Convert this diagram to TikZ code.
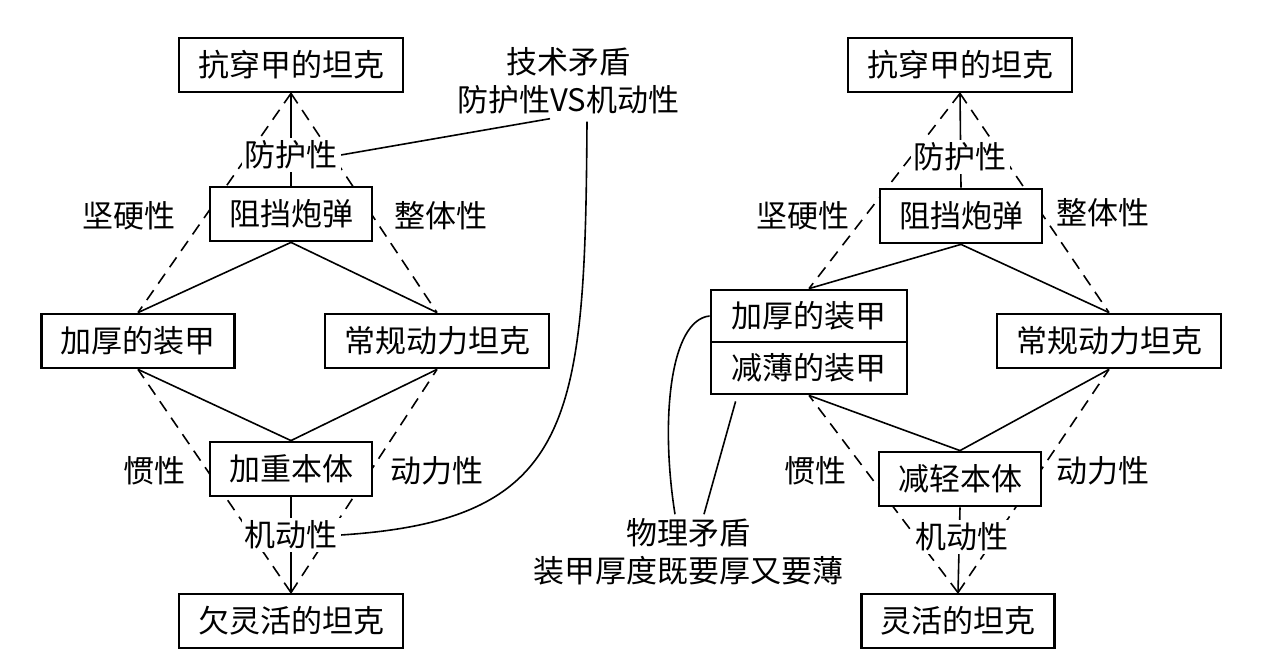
\documentclass[tikz,border=0pt]{standalone}
\usepackage{fontspec}
\usepackage{tikz}
\usetikzlibrary{calc}
\usetikzlibrary{backgrounds}
\newfontfamily\cjk{Noto Sans CJK SC}

\begin{document}
\begin{tikzpicture}[x=0.5pt,y=-0.5pt,
  every node/.style={font=\cjk\fontsize{15.5pt}{19pt}\selectfont},
  box/.style={draw,line width=1.4pt,fill=white,inner xsep=9.5pt,inner ysep=0pt,minimum height=27pt},
  halfbox/.style={box,minimum width=98pt,minimum height=26pt},
  lab/.style={fill=white,inner sep=1.5pt},
  note/.style={align=center,inner sep=2pt},
  link/.style={line width=0.8pt},
  hint/.style={line width=0.8pt,dash pattern=on 6pt off 4pt}]
  \useasboundingbox (0,0) rectangle (1280,672);
  % left: thicker armour
  \node[box] (top1) at (291,65) {抗穿甲的坦克};
  \node[box] (stop1) at (291,214) {阻挡炮弹};
  \node[box] (armor1) at (138,341) {加厚的装甲};
  \node[box] (engine1) at (437,341) {常规动力坦克};
  \node[box] (body1) at (291,469) {加重本体};
  \node[box] (end1) at (291,621) {欠灵活的坦克};
  \node[lab] (prot1) at (291,155) {防护性};
  \node[lab] (hard1) at (129,216) {坚硬性};
  \node[lab] (whole1) at (441,216) {整体性};
  \node[lab] (inert1) at (154,471) {惯性};
  \node[lab] (power1) at (437,471) {动力性};
  \node[lab] (mob1) at (291,535) {机动性};
  \node[note] (tech) at (568,81) {技术矛盾\\防护性VS机动性};
  % right: separated armour
  \node[box] (top2) at (960,65) {抗穿甲的坦克};
  \node[box] (stop2) at (961,216) {阻挡炮弹};
  \node[halfbox] (armor2) at (809,316) {加厚的装甲};
  \node[halfbox] (thin2) at (809,368) {减薄的装甲};
  \node[box] (engine2) at (1109,341) {常规动力坦克};
  \node[box] (body2) at (960,479) {减轻本体};
  \node[box] (end2) at (958,621) {灵活的坦克};
  \node[lab] (prot2) at (960,157) {防护性};
  \node[lab] (hard2) at (803,216) {坚硬性};
  \node[lab] (whole2) at (1103,213) {整体性};
  \node[lab] (inert2) at (815,471) {惯性};
  \node[lab] (power2) at (1103,471) {动力性};
  \node[lab] (mob2) at (962,537) {机动性};
  \node[note] (phys) at (688,552) {物理矛盾\\装甲厚度既要厚又要薄};
  \begin{scope}[on background layer]
    \draw[link](stop1.north)--(top1.south);
    \draw[hint](top1.south)--(armor1.north);
    \draw[hint](top1.south)--(engine1.north);
    \draw[link](stop1.south)--(armor1.north);
    \draw[link](stop1.south)--(engine1.north);
    \draw[link](body1.north)--(armor1.south);
    \draw[link](body1.north)--(engine1.south);
    \draw[hint](end1.north)--(armor1.south);
    \draw[hint](end1.north)--(engine1.south);
    \draw[link](body1.south)--(end1.north);
    \draw[link](prot1.east)--($(tech.south)+(-18,0)$);
    \draw[link]($(tech.south)+(19,3)$) .. controls (585,420) and (575,520) .. (mob1.east);
    \draw[link](stop2.north)--(top2.south);
    \draw[hint](top2.south)--(armor2.north);
    \draw[hint](top2.south)--(engine2.north);
    \draw[link](stop2.south)--(armor2.north);
    \draw[link](stop2.south)--(engine2.north);
    \draw[link](body2.north)--(thin2.south);
    \draw[link](body2.north)--(engine2.south);
    \draw[hint](end2.north)--(thin2.south);
    \draw[hint](end2.north)--(engine2.south);
    \draw[link](body2.south)--(end2.north);
    \draw[link](armor2.west) .. controls (670,320) and (660,420) .. ($(phys.north)+(-13,0)$);
    \draw[link]($(thin2.south west)+(26,6)$)--($(phys.north)+(16,0)$);
  \end{scope}
\end{tikzpicture}
\end{document}
